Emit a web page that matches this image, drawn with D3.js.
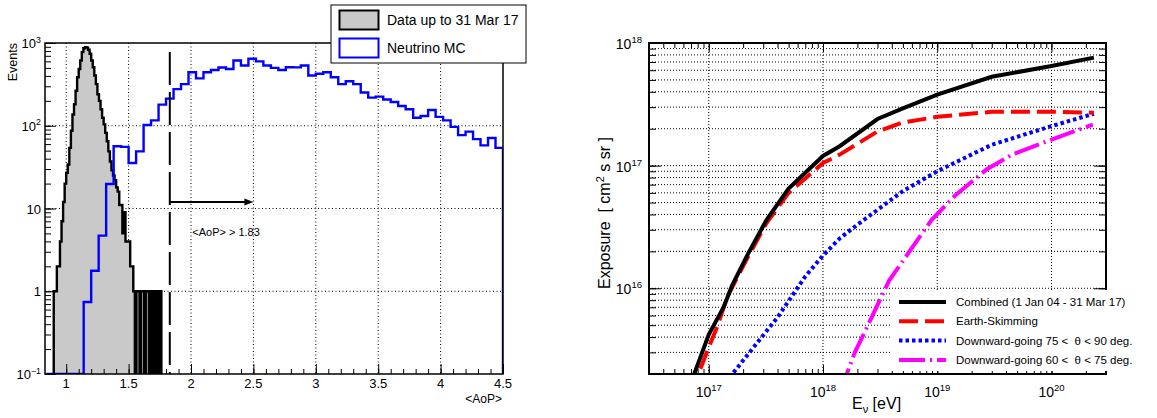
<!DOCTYPE html>
<html>
<head>
<meta charset="utf-8">
<script src="https://cdn.jsdelivr.net/npm/d3@7"></script>
<style>
  body { margin: 0; background: #fff; }
  text { font-family: "Liberation Sans", Arial, sans-serif; fill: #000; white-space: pre; }
</style>
</head>
<body>
<svg id="chart" width="1157" height="418"></svg>
<script>
// ---- left panel data : <AoP> histograms ----
var aopTicks = [1, 1.5, 2, 2.5, 3, 3.5, 4, 4.5];
var eventDecades = [0.1, 1, 10, 100, 1000];
var dataStart = 0.9, dataBinWidth = 0.0125;
var dataCounts = [1,1,2,2,4,7,12,20,27,34, 54,87,137,182,265,385,485,615,775,865,
                  890,880,830,740,615,510,405,318,240,200, 158,125,104,82,65,49,37,29,25,22,
                  18,16,11,11,5,9,4,4,4,2, 2,1,
                  0,1,1,0,1,1,0,1,1,0,1,0,1,0,1,0,1];
var mcStart = 0.84, mcBinWidth = 0.06;
var mcCounts = [0,0,0,0,0, 0.74,1.77,4.7,19.8,56.5,55.5,35.5,49,102,116,
                180,213,277,318,443,374,443,472,506,485,
                615,535,645,600,535,500,472,510,507,535,
                405,425,443,385,318,345,318,252,219,225,
                208,194,173,158,125,131,155,128,116,97,
                77,85,69,58,71,54];
var aopCut = 1.83;
var legendLeft = ["Data up to 31 Mar 17", "Neutrino MC"];

// ---- right panel data : exposure vs energy ----
var energyDecades = [1e17, 1e18, 1e19, 1e20];
var exposureDecades = [1e16, 1e17, 1e18];
var combE = [6.3e16, 1e17, 1.35e17, 1.6e17, 2.2e17, 3.2e17, 5e17, 1e18, 1.4e18, 3e18, 5e18, 1e19, 3e19, 1e20, 2.35e20];
var combX = [1.3e15, 4.2e15, 7e15, 1.05e16, 1.9e16, 3.6e16, 6.5e16, 1.2e17, 1.44e17, 2.4e17, 2.93e17, 3.8e17, 5.3e17, 6.5e17, 7.6e17];
var esE = [7e16, 1e17, 1.2e17, 1.45e17, 2.2e17, 3.2e17, 5e17, 1e18, 1.4e18, 3e18, 5e18, 1e19, 3e19, 1e20, 2.35e20];
var esX = [1.4e15, 3.3e15, 5e15, 8.5e15, 1.8e16, 3.4e16, 6e16, 1.05e17, 1.23e17, 1.9e17, 2.25e17, 2.5e17, 2.75e17, 2.75e17, 2.7e17];
var d75E = [1.4e17, 4e17, 7e17, 1e18, 1.4e18, 2e18, 5e18, 1e19, 3e19, 1e20, 2.35e20];
var d75X = [1.7e15, 5.8e15, 1.25e16, 1.85e16, 2.55e16, 3.3e16, 6.2e16, 9e16, 1.48e17, 2.1e17, 2.65e17];
var d60E = [1.4e18, 1.9e18, 2.5e18, 3.8e18, 8.9e18, 1.46e19, 2.7e19, 4.5e19, 8.3e19, 2.3e20];
var d60X = [1.4e15, 3e15, 5.1e15, 1.16e16, 3.6e16, 5.8e16, 9.3e16, 1.23e17, 1.53e17, 2.16e17];
var legendRight = ["Combined (1 Jan 04 - 31 Mar 17)", "Earth-Skimming",
                   "Downward-going 75 <  \u03b8 < 90 deg.", "Downward-going 60 <  \u03b8 < 75 deg."];

var svg = d3.select("#chart");

// helpers
function logMinors(lo, hi) {
  var out = [];
  for (var n = Math.floor(Math.log10(lo)); n <= Math.ceil(Math.log10(hi)); n++) {
    for (var k = 1; k <= 9; k++) {
      var v = k * Math.pow(10, n);
      if (v >= lo * 0.999 && v <= hi * 1.001) out.push(v);
    }
  }
  return out;
}
function supText(g, x, y, base, exp, size, anchor) {
  var t = g.append("text").attr("x", x).attr("y", y)
    .attr("text-anchor", anchor).style("font-size", size + "px");
  t.append("tspan").text(base);
  if (exp !== null) t.append("tspan").attr("dy", -size * 0.42).style("font-size", (size * 0.68) + "px").text(exp);
  return t;
}
function stepPath(start, width, counts, x, y, floor) {
  var p = d3.path();
  p.moveTo(x(start), y(floor));
  counts.forEach(function(c, i) {
    var v = c > 0 ? c : floor;
    p.lineTo(x(start + i * width), y(v));
    p.lineTo(x(start + (i + 1) * width), y(v));
  });
  p.lineTo(x(start + counts.length * width), y(floor));
  return p.toString();
}
function ticks(g, axisFn, scale, values, size) {
  g.call(axisFn(scale).tickValues(values).tickSize(size).tickFormat(""))
   .call(function(s) { s.select(".domain").remove(); })
   .selectAll("line").attr("stroke", "#000").attr("stroke-width", 1);
}

// =================== LEFT PANEL ===================
var xL = d3.scaleLinear().domain([0.83, 4.5]).range([45, 503]);
var yL = d3.scaleLog().domain([0.1, 1000]).range([374, 43]);
var left = svg.append("g");

svg.append("clipPath").attr("id", "clipL").append("rect")
  .attr("x", 45).attr("y", 43).attr("width", 458).attr("height", 331);

// grid
left.append("g").selectAll("line").data(aopTicks.slice(0, -1)).join("line")
  .attr("x1", function(d) { return xL(d); }).attr("x2", function(d) { return xL(d); })
  .attr("y1", 43).attr("y2", 374)
  .attr("stroke", "#000").attr("stroke-width", 1).attr("stroke-dasharray", "1,2.5");
left.append("g").selectAll("line").data(eventDecades.slice(1, -1)).join("line")
  .attr("y1", function(d) { return yL(d); }).attr("y2", function(d) { return yL(d); })
  .attr("x1", 45).attr("x2", 503)
  .attr("stroke", "#000").attr("stroke-width", 1).attr("stroke-dasharray", "1,2.5");

var histL = left.append("g").attr("clip-path", "url(#clipL)");
var dPath = stepPath(dataStart, dataBinWidth, dataCounts, xL, yL, 0.1);
histL.append("path").attr("d", dPath + "Z").attr("fill", "#c9c9c9").attr("stroke", "none");
histL.append("path").attr("d", dPath).attr("fill", "none").attr("stroke", "#000").attr("stroke-width", 2.4);
histL.append("path").attr("d", stepPath(mcStart, mcBinWidth, mcCounts, xL, yL, 0.1))
  .attr("fill", "none").attr("stroke", "#0000ff").attr("stroke-width", 2.4);

// cut line and arrow
left.append("line").attr("x1", xL(aopCut)).attr("x2", xL(aopCut))
  .attr("y1", yL(780)).attr("y2", yL(0.1))
  .attr("stroke", "#000").attr("stroke-width", 2).attr("stroke-dasharray", "33,7");
left.append("line").attr("x1", xL(aopCut)).attr("x2", xL(2.5) - 6)
  .attr("y1", yL(12)).attr("y2", yL(12)).attr("stroke", "#000").attr("stroke-width", 2);
left.append("path")
  .attr("d", "M" + xL(2.5) + "," + yL(12) + "l-9,-3.5l0,7z").attr("fill", "#000");
left.append("text").attr("x", xL(2.01)).attr("y", yL(4.6))
  .style("font-size", "11px").text("<AoP> > 1.83");

// frame + ticks
left.append("rect").attr("x", 45).attr("y", 43).attr("width", 458).attr("height", 331)
  .attr("fill", "none").attr("stroke", "#000").attr("stroke-width", 1.5);
var minorAop = d3.range(9, 45).map(function(d) { return d / 10; });
ticks(left.append("g").attr("transform", "translate(0,374)"), d3.axisBottom, xL, minorAop, -5);
ticks(left.append("g").attr("transform", "translate(0,374)"), d3.axisBottom, xL, aopTicks, -10);
ticks(left.append("g").attr("transform", "translate(45,0)"), d3.axisLeft, yL, logMinors(0.1, 1000), -6);
ticks(left.append("g").attr("transform", "translate(45,0)"), d3.axisLeft, yL, eventDecades, -11);

aopTicks.forEach(function(v) {
  left.append("text").attr("x", xL(v)).attr("y", 388).attr("text-anchor", "middle")
    .style("font-size", "13px").text(String(v));
});
var yLabels = [["10", "\u22121"], ["1", null], ["10", null], ["10", "2"], ["10", "3"]];
eventDecades.forEach(function(v, i) {
  var lab = yLabels[i];
  supText(left, 41, yL(v) + 5, lab[0], lab[1], 13, "end");
});
left.append("text").attr("x", 502).attr("y", 403).attr("text-anchor", "end")
  .style("font-size", "12px").text("<AoP>");
left.append("text").attr("transform", "translate(17,43) rotate(-90)")
  .attr("text-anchor", "end").style("font-size", "12.5px").text("Events");

// legend
var lg = left.append("g");
lg.append("rect").attr("x", 331).attr("y", 5).attr("width", 195).attr("height", 58)
  .attr("fill", "#fff").attr("stroke", "#000").attr("stroke-width", 1);
lg.append("rect").attr("x", 339.5).attr("y", 10.5).attr("width", 39).attr("height", 19)
  .attr("fill", "#c9c9c9").attr("stroke", "#000").attr("stroke-width", 2);
lg.append("rect").attr("x", 339.5).attr("y", 38.5).attr("width", 39).attr("height", 19)
  .attr("fill", "#fff").attr("stroke", "#0000ff").attr("stroke-width", 2);
legendLeft.forEach(function(s, i) {
  lg.append("text").attr("x", 387).attr("y", 25 + i * 28).style("font-size", "14px").text(s);
});

// =================== RIGHT PANEL ===================
var xR = d3.scaleLog().domain([3e16, 3e20]).range([649, 1106]);
var yR = d3.scaleLog().domain([2e15, 1e18]).range([374, 43]);
var right = svg.append("g");

svg.append("clipPath").attr("id", "clipR").append("rect")
  .attr("x", 649).attr("y", 43).attr("width", 457).attr("height", 331);

var yMinorR = logMinors(2e15, 1e18);
right.append("g").selectAll("line").data(yMinorR.slice(1, -1)).join("line")
  .attr("y1", function(d) { return yR(d); }).attr("y2", function(d) { return yR(d); })
  .attr("x1", 649).attr("x2", 1106)
  .attr("stroke", "#000").attr("stroke-width", 1).attr("stroke-dasharray", "1,2");
right.append("g").selectAll("line").data(energyDecades).join("line")
  .attr("x1", function(d) { return xR(d); }).attr("x2", function(d) { return xR(d); })
  .attr("y1", 43).attr("y2", 374)
  .attr("stroke", "#000").attr("stroke-width", 1).attr("stroke-dasharray", "1,2");

var series = [
  { e: combE, x: combX, color: "#000", dash: null },
  { e: esE, x: esX, color: "#ff0000", dash: "19,7" },
  { e: d75E, x: d75X, color: "#0000ff", dash: "3.5,3" },
  { e: d60E, x: d60X, color: "#ff00ff", dash: "26,5,2,5" }
];
var line = d3.line().x(function(d) { return xR(d[0]); }).y(function(d) { return yR(d[1]); });
var curves = right.append("g").attr("clip-path", "url(#clipR)");
series.slice().reverse().forEach(function(s) {
  curves.append("path").attr("d", line(d3.zip(s.e, s.x)))
    .attr("fill", "none").attr("stroke", s.color).attr("stroke-width", 4)
    .attr("stroke-dasharray", s.dash);
});

// frame + ticks
right.append("rect").attr("x", 649).attr("y", 43).attr("width", 457).attr("height", 331)
  .attr("fill", "none").attr("stroke", "#000").attr("stroke-width", 2);
var xMinorR = logMinors(3e16, 3e20);
ticks(right.append("g").attr("transform", "translate(0,374)"), d3.axisBottom, xR, xMinorR, -5);
ticks(right.append("g").attr("transform", "translate(0,374)"), d3.axisBottom, xR, energyDecades, -9);
ticks(right.append("g").attr("transform", "translate(0,43)"), d3.axisTop, xR, xMinorR, -5);
ticks(right.append("g").attr("transform", "translate(0,43)"), d3.axisTop, xR, energyDecades, -9);
ticks(right.append("g").attr("transform", "translate(649,0)"), d3.axisLeft, yR, yMinorR, -7);
ticks(right.append("g").attr("transform", "translate(649,0)"), d3.axisLeft, yR, exposureDecades, -12);
ticks(right.append("g").attr("transform", "translate(1106,0)"), d3.axisRight, yR, yMinorR, -7);
ticks(right.append("g").attr("transform", "translate(1106,0)"), d3.axisRight, yR, exposureDecades, -12);

// legend (white box over grid and frame)
var lr = right.append("g");
lr.append("rect").attr("x", 890).attr("y", 290).attr("width", 264).attr("height", 81).attr("fill", "#fff");
series.forEach(function(s, i) {
  var yy = 302 + i * 19.3;
  lr.append("line").attr("x1", 899).attr("x2", 946).attr("y1", yy).attr("y2", yy)
    .attr("stroke", s.color).attr("stroke-width", 4).attr("stroke-dasharray", s.dash);
  lr.append("text").attr("x", 956).attr("y", yy + 4).style("font-size", "11.5px").text(legendRight[i]);
});

energyDecades.forEach(function(v) {
  supText(right, xR(v), 397, "10", String(Math.round(Math.log10(v))), 14, "middle");
});
exposureDecades.forEach(function(v) {
  supText(right, 642, yR(v) + 6, "10", String(Math.round(Math.log10(v))), 14, "end");
});
right.append("text").attr("transform", "translate(610,289) rotate(-90)")
  .style("font-size", "16px")
  .call(function(t) {
    t.append("tspan").text("Exposure  [ cm");
    t.append("tspan").attr("dy", -6).style("font-size", "11px").text("2");
    t.append("tspan").attr("dy", 6).text(" s sr ]");
  });
right.append("text").attr("x", 852).attr("y", 409).style("font-size", "16px")
  .call(function(t) {
    t.append("tspan").text("E");
    t.append("tspan").attr("dy", 4).style("font-size", "11px").text("\u03bd");
    t.append("tspan").attr("dy", -4).text(" [eV]");
  });
</script>
</body>
</html>
